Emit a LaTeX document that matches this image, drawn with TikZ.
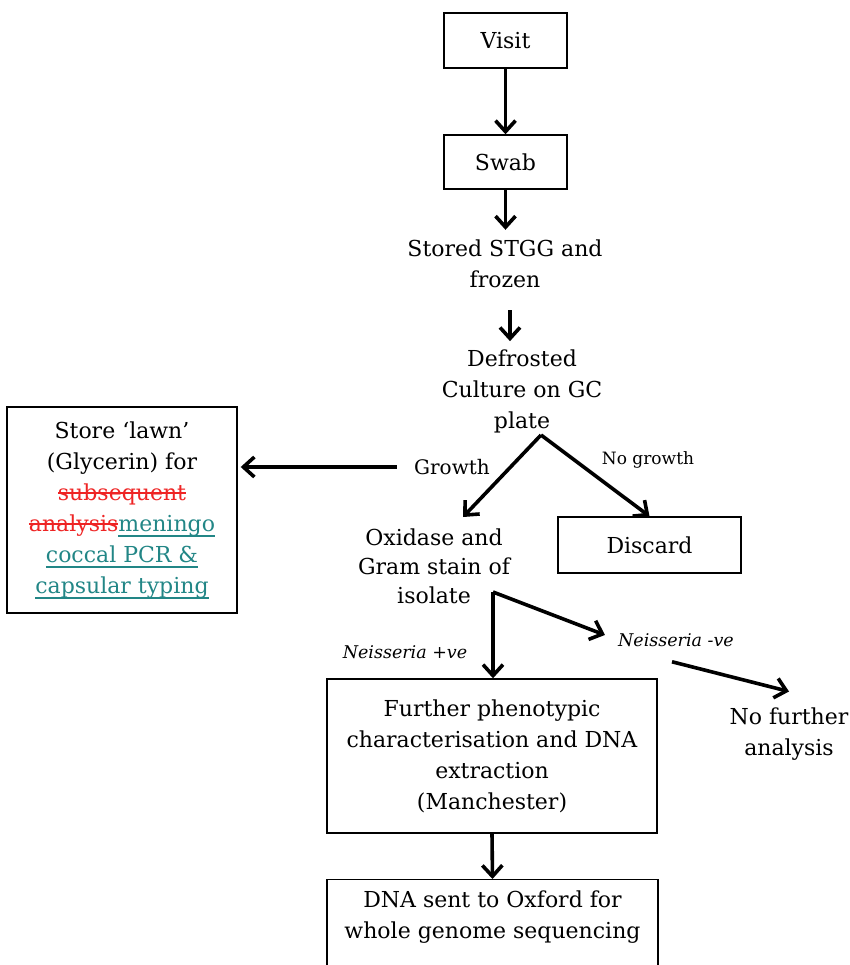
\documentclass[tikz,border=0pt]{standalone}
\usepackage{fontspec}
\setmainfont{DejaVu Serif}
\usepackage{xcolor}
\usetikzlibrary{arrows.meta}
\definecolor{strikered}{RGB}{238,36,36}
\definecolor{typeteal}{RGB}{34,134,134}
\newlength{\marklen}
\newcommand{\strikeword}[1]{\settowidth{\marklen}{#1}\rlap{\rule[0.27em]{\marklen}{1.6pt}}#1}
\newcommand{\underword}[1]{\settowidth{\marklen}{#1}\rlap{\rule[-0.26em]{\marklen}{1.6pt}}#1}

\begin{document}
\begin{tikzpicture}[x=1pt,y=-1pt,
    box/.style={draw, line width=1.4pt, inner sep=0pt, align=center,
                font=\fontsize{22}{31}\selectfont},
    plain/.style={inner sep=0pt, align=center, font=\fontsize{22}{31}\selectfont},
    small/.style={inner sep=0pt, font=\fontsize{17}{20}\selectfont},
    flow/.style={line width=3.6pt, -{Straight Barb[length=11pt,width=20pt]}}]
    \useasboundingbox (0,0) rectangle (850,965);
    %
    \node [box, minimum width=123, minimum height=55] (visit) at (505.5,40.5) {Visit};
    \node [box, minimum width=123, minimum height=54] (swab) at (505.5,162) {Swab};
    \node [plain] (stored) at (505,264) {Stored STGG and\\frozen};
    \node [plain] (defrost) at (522,391) {Defrosted\\Culture on GC\\plate};
    \coordinate (fork) at (541,435);
    \node [plain, font=\fontsize{20}{24}\selectfont] (growth) at (452,467) {Growth};
    \node [small] (nogrowth) at (648,460) {No growth};
    \node [box, minimum width=230, minimum height=206] (store) at (122,510)
        {Store ‘lawn’\\(Glycerin) for\\
         \textcolor{strikered}{\strikeword{subsequent}}\\
         \textcolor{strikered}{\strikeword{analysis}}\textcolor{typeteal}{\underword{meningo}}\\
         \textcolor{typeteal}{\underword{coccal PCR \&}}\\
         \textcolor{typeteal}{\underword{capsular typing}}};
    \node [box, minimum width=183, minimum height=56] (discard) at (649.5,545) {Discard};
    \node [plain, font=\fontsize{22}{29}\selectfont] (oxidase) at (434,566.5)
        {Oxidase and\\Gram stain of\\isolate};
    \coordinate (split) at (493,592);
    \coordinate (growthtip) at (463,517);
    \node [small, font=\fontsize{17.5}{20}\itshape] (pos) at (405,652) {Neisseria +ve};
    \node [small, font=\fontsize{17.5}{20}\itshape] (neg) at (676,640) {Neisseria -ve};
    \node [plain] (nofurther) at (789,734) {No further\\analysis};
    \node [box, minimum width=330, minimum height=154] (further) at (492,756)
        {Further phenotypic\\characterisation and DNA\\extraction\\(Manchester)};
    \node [box, minimum width=331, minimum height=200, anchor=north] (dna) at (492.5,879) {};
    \node [plain] (dnatext) at (492.5,917.5) {DNA sent to Oxford for\\whole genome sequencing};
    %
    \draw [flow] (visit.south) -- (swab.north);
    \draw [flow, shorten >=10pt] (swab.south) -- (swab.south |- stored.north);
    \draw [flow, shorten <=22pt, shorten >=8pt] ([xshift=5pt]stored.south) -- ([xshift=-12pt]defrost.north);
    \draw [flow] (fork) -- (growthtip);
    \draw [flow] (fork) -- (discard.north);
    \draw [flow, shorten <=17pt, shorten >=3pt] (growth.west) -- (growth.west -| store.east);
    \draw [flow] (split) -- (split |- further.north);
    \draw [flow, shorten >=14pt] (split) -- (neg.west);
    \draw [flow] ([xshift=-4pt,yshift=-15pt]neg.south) -- ([yshift=16pt]nofurther.north);
    \draw [flow] (further.south) -- (dna.north);
\end{tikzpicture}
\end{document}
